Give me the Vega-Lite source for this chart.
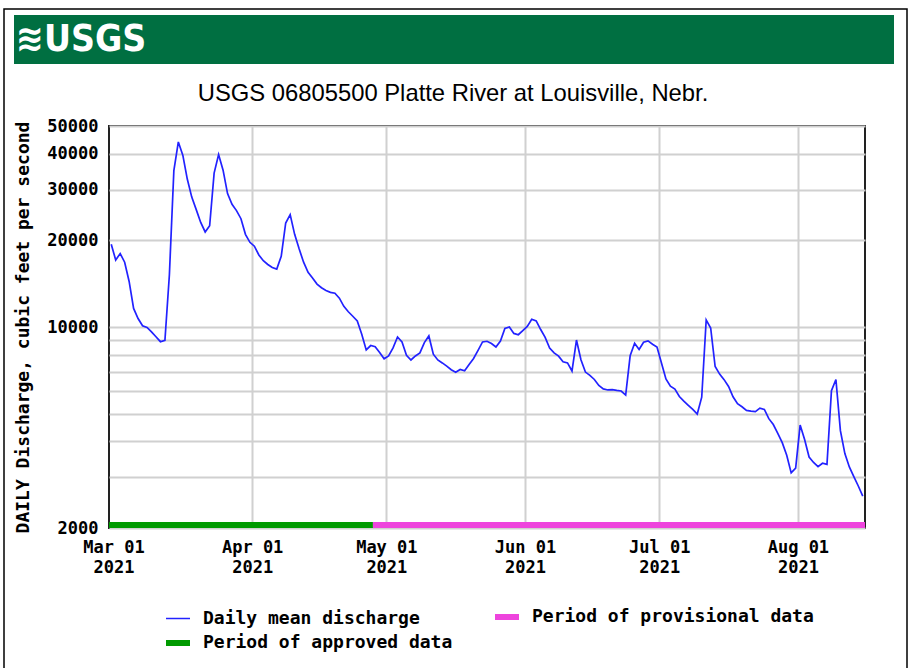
{
  "$schema": "https://vega.github.io/schema/vega-lite/v6.json",
  "background": "white",
  "padding": {"left": 3, "top": 8, "right": 5, "bottom": 0},
  "spacing": 62,
  "bounds": "flush",
  "resolve": {"scale": {"x": "independent", "y": "independent", "color": "independent"}, "legend": {"color": "independent"}},
  "config": {
    "font": "DejaVu Sans Mono",
    "axis": {"labelFont": "DejaVu Sans Mono", "labelFontWeight": "bold", "labelColor": "black", "titleFont": "DejaVu Sans Mono", "titleFontWeight": "bold", "titleColor": "black"}
  },
  "vconcat": [
    {
      "width": 785,
      "height": 49,
      "view": {"stroke": null},
      "data": {"values": [{"logo": "≋USGS"}]},
      "encoding": {
        "x": {"datum": 0, "type": "quantitative", "scale": {"domain": [0, 1]}, "axis": null},
        "y": {"datum": 0.5, "type": "quantitative", "scale": {"domain": [0, 1]}, "axis": null}
      },
      "layer": [
        {
          "mark": {"type": "rect", "color": "#006f41", "xOffset": -95},
          "encoding": {"x": {"datum": 0, "type": "quantitative"}, "x2": {"datum": 1}, "y": {"datum": 0, "type": "quantitative"}, "y2": {"datum": 1}}
        },
        {
          "mark": {"type": "rect", "filled": false, "color": "#000000", "strokeWidth": 1.5, "xOffset": -105, "x2Offset": 13, "yOffset": 640, "y2Offset": -6},
          "encoding": {"x": {"datum": 0, "type": "quantitative"}, "x2": {"datum": 1}, "y": {"datum": 0, "type": "quantitative"}, "y2": {"datum": 1}}
        },
        {
          "mark": {"type": "text", "align": "left", "baseline": "middle", "color": "white", "font": "DejaVu Sans Condensed, Liberation Sans Narrow, Liberation Sans", "fontSize": 37, "fontWeight": "bold", "dx": -93},
          "encoding": {"text": {"field": "logo"}}
        }
      ]
    },
    {
      "width": 756,
      "height": 402,
      "view": {"stroke": "#222222", "strokeWidth": 2},
      "title": {"text": "USGS 06805500 Platte River at Louisville, Nebr.", "font": "Liberation Sans", "fontSize": 23.8, "fontWeight": "normal", "color": "black", "offset": -8, "baseline": "alphabetic", "anchor": "middle", "frame": "bounds", "dx": 12},
      "layer": [
        {
          "data": {"values": [
            {"date":"2021-02-28","q":19400},{"date":"2021-03-01","q":17100},{"date":"2021-03-02","q":18000},{"date":"2021-03-03","q":16800},{"date":"2021-03-04","q":14400},{"date":"2021-03-05","q":11600},{"date":"2021-03-06","q":10700},{"date":"2021-03-07","q":10100},{"date":"2021-03-08","q":9960},{"date":"2021-03-09","q":9620},{"date":"2021-03-10","q":9250},{"date":"2021-03-11","q":8890},{"date":"2021-03-12","q":8980},{"date":"2021-03-13","q":15200},{"date":"2021-03-14","q":35000},{"date":"2021-03-15","q":44000},{"date":"2021-03-16","q":39600},{"date":"2021-03-17","q":32700},{"date":"2021-03-18","q":28300},{"date":"2021-03-19","q":25600},{"date":"2021-03-20","q":23100},{"date":"2021-03-21","q":21400},{"date":"2021-03-22","q":22500},{"date":"2021-03-23","q":34300},{"date":"2021-03-24","q":39800},{"date":"2021-03-25","q":35100},{"date":"2021-03-26","q":29100},{"date":"2021-03-27","q":26700},{"date":"2021-03-28","q":25400},{"date":"2021-03-29","q":23800},{"date":"2021-03-30","q":21000},{"date":"2021-03-31","q":19700},
            {"date":"2021-04-01","q":19100},{"date":"2021-04-02","q":17800},{"date":"2021-04-03","q":17000},{"date":"2021-04-04","q":16500},{"date":"2021-04-05","q":16100},{"date":"2021-04-06","q":15900},{"date":"2021-04-07","q":17600},{"date":"2021-04-08","q":23000},{"date":"2021-04-09","q":24600},{"date":"2021-04-10","q":21000},{"date":"2021-04-11","q":18700},{"date":"2021-04-12","q":16800},{"date":"2021-04-13","q":15500},{"date":"2021-04-14","q":14800},{"date":"2021-04-15","q":14100},{"date":"2021-04-16","q":13700},{"date":"2021-04-17","q":13400},{"date":"2021-04-18","q":13200},{"date":"2021-04-19","q":13100},{"date":"2021-04-20","q":12600},{"date":"2021-04-21","q":11800},{"date":"2021-04-22","q":11300},{"date":"2021-04-23","q":10900},{"date":"2021-04-24","q":10500},{"date":"2021-04-25","q":9430},{"date":"2021-04-26","q":8320},{"date":"2021-04-27","q":8620},{"date":"2021-04-28","q":8540},{"date":"2021-04-29","q":8150},{"date":"2021-04-30","q":7750},
            {"date":"2021-05-01","q":7930},{"date":"2021-05-02","q":8460},{"date":"2021-05-03","q":9230},{"date":"2021-05-04","q":8870},{"date":"2021-05-05","q":7970},{"date":"2021-05-06","q":7680},{"date":"2021-05-07","q":7930},{"date":"2021-05-08","q":8130},{"date":"2021-05-09","q":8830},{"date":"2021-05-10","q":9310},{"date":"2021-05-11","q":8040},{"date":"2021-05-12","q":7680},{"date":"2021-05-13","q":7500},{"date":"2021-05-14","q":7310},{"date":"2021-05-15","q":7100},{"date":"2021-05-16","q":6960},{"date":"2021-05-17","q":7120},{"date":"2021-05-18","q":7040},{"date":"2021-05-19","q":7410},{"date":"2021-05-20","q":7770},{"date":"2021-05-21","q":8290},{"date":"2021-05-22","q":8870},{"date":"2021-05-23","q":8920},{"date":"2021-05-24","q":8760},{"date":"2021-05-25","q":8520},{"date":"2021-05-26","q":8930},{"date":"2021-05-27","q":9880},{"date":"2021-05-28","q":10000},{"date":"2021-05-29","q":9500},{"date":"2021-05-30","q":9400},{"date":"2021-05-31","q":9720},
            {"date":"2021-06-01","q":10040},{"date":"2021-06-02","q":10640},{"date":"2021-06-03","q":10500},{"date":"2021-06-04","q":9800},{"date":"2021-06-05","q":9200},{"date":"2021-06-06","q":8450},{"date":"2021-06-07","q":8130},{"date":"2021-06-08","q":7920},{"date":"2021-06-09","q":7570},{"date":"2021-06-10","q":7500},{"date":"2021-06-11","q":7030},{"date":"2021-06-12","q":9010},{"date":"2021-06-13","q":7690},{"date":"2021-06-14","q":6970},{"date":"2021-06-15","q":6790},{"date":"2021-06-16","q":6570},{"date":"2021-06-17","q":6260},{"date":"2021-06-18","q":6090},{"date":"2021-06-19","q":6040},{"date":"2021-06-20","q":6060},{"date":"2021-06-21","q":6020},{"date":"2021-06-22","q":5990},{"date":"2021-06-23","q":5800},{"date":"2021-06-24","q":7940},{"date":"2021-06-25","q":8780},{"date":"2021-06-26","q":8350},{"date":"2021-06-27","q":8850},{"date":"2021-06-28","q":8950},{"date":"2021-06-29","q":8710},{"date":"2021-06-30","q":8520},
            {"date":"2021-07-01","q":7490},{"date":"2021-07-02","q":6600},{"date":"2021-07-03","q":6230},{"date":"2021-07-04","q":6080},{"date":"2021-07-05","q":5730},{"date":"2021-07-06","q":5520},{"date":"2021-07-07","q":5340},{"date":"2021-07-08","q":5170},{"date":"2021-07-09","q":4980},{"date":"2021-07-10","q":5700},{"date":"2021-07-11","q":10580},{"date":"2021-07-12","q":9920},{"date":"2021-07-13","q":7290},{"date":"2021-07-14","q":6860},{"date":"2021-07-15","q":6560},{"date":"2021-07-16","q":6210},{"date":"2021-07-17","q":5720},{"date":"2021-07-18","q":5410},{"date":"2021-07-19","q":5280},{"date":"2021-07-20","q":5130},{"date":"2021-07-21","q":5100},{"date":"2021-07-22","q":5080},{"date":"2021-07-23","q":5220},{"date":"2021-07-24","q":5170},{"date":"2021-07-25","q":4800},{"date":"2021-07-26","q":4580},{"date":"2021-07-27","q":4270},{"date":"2021-07-28","q":3960},{"date":"2021-07-29","q":3580},{"date":"2021-07-30","q":3110},{"date":"2021-07-31","q":3230},
            {"date":"2021-08-01","q":4560},{"date":"2021-08-02","q":4060},{"date":"2021-08-03","q":3530},{"date":"2021-08-04","q":3380},{"date":"2021-08-05","q":3270},{"date":"2021-08-06","q":3360},{"date":"2021-08-07","q":3330},{"date":"2021-08-08","q":6000},{"date":"2021-08-09","q":6570},{"date":"2021-08-10","q":4360},{"date":"2021-08-11","q":3630},{"date":"2021-08-12","q":3260},{"date":"2021-08-13","q":3020},{"date":"2021-08-14","q":2800},{"date":"2021-08-15","q":2580}
          ]},
          "mark": {"type": "line", "strokeWidth": 1.7, "clip": true},
          "encoding": {
            "x": {
              "field": "date", "type": "temporal", "timeUnit": "utcyearmonthdate", "bandPosition": 0.5, "title": null,
              "scale": {"type": "utc", "domain": [{"year": 2021, "month": "feb", "date": 28, "utc": true}, {"year": 2021, "month": "aug", "date": 16, "utc": true}]},
              "axis": {
                "values": [
                  {"year": 2021, "month": "mar", "date": 1, "utc": true},
                  {"year": 2021, "month": "apr", "date": 1, "utc": true},
                  {"year": 2021, "month": "may", "date": 1, "utc": true},
                  {"year": 2021, "month": "jun", "date": 1, "utc": true},
                  {"year": 2021, "month": "jul", "date": 1, "utc": true},
                  {"year": 2021, "month": "aug", "date": 1, "utc": true}
                ],
                "labelExpr": "[utcFormat(datum.value, '%b %d'), utcFormat(datum.value, '%Y')]",
                "grid": true, "gridColor": "#d0d0d0", "gridWidth": 2,
                "gridOpacity": {"condition": {"test": "utcmonth(datum.value) === 2", "value": 0}, "value": 1},
                "ticks": false, "domain": false, "labelPadding": 11, "labelLineHeight": 20,
                "labelFlush": false, "labelOverlap": false, "labelFontSize": 17
              }
            },
            "y": {
              "field": "q", "type": "quantitative", "title": "DAILY Discharge, cubic feet per second",
              "scale": {"type": "log", "domain": [2000, 50000], "nice": false},
              "axis": {
                "values": [2000, 3000, 4000, 5000, 6000, 7000, 8000, 9000, 10000, 20000, 30000, 40000, 50000],
                "labelExpr": "indexof([2000, 10000, 20000, 30000, 40000, 50000], datum.value) >= 0 ? datum.value + '' : ''",
                "grid": true, "gridColor": "#d0d0d0", "gridWidth": 2,
                "ticks": false, "domain": false, "labelPadding": 11, "minExtent": 70, "maxExtent": 70,
                "titlePadding": 7, "labelFlush": false, "labelOverlap": false, "labelFontSize": 17, "titleFontSize": 18
              }
            },
            "color": {
              "datum": "Daily mean discharge", "type": "nominal", "title": null,
              "scale": {"domain": ["Daily mean discharge", "Period of provisional data", "Period of approved data"], "range": ["#2222ff", "#ee44dd", "#009a00"]},
              "legend": {
                "orient": "none", "legendX": 60, "legendY": 482, "direction": "horizontal", "columns": 2, "columnPadding": 30, "rowPadding": 2,
                "title": null, "symbolType": "stroke", "symbolSize": 576, "symbolStrokeWidth": 6,
                "labelFont": "DejaVu Sans Mono", "labelFontSize": 18, "labelFontWeight": "bold", "labelColor": "black",
                "labelOffset": 16, "labelLimit": 400,
                "encode": {"symbols": {"update": {"strokeWidth": {"signal": "datum.value === 'Daily mean discharge' ? 1.5 : 6"}}}}
              }
            }
          }
        },
        {
          "data": {"values": [
            {"series": "Period of approved data", "start": "2021-02-28", "end": "2021-04-28"},
            {"series": "Period of provisional data", "start": "2021-04-28", "end": "2021-08-16"}
          ]},
          "mark": {"type": "rule", "strokeWidth": 6, "yOffset": -3, "strokeCap": "butt"},
          "encoding": {
            "x": {"field": "start", "type": "temporal", "scale": {"type": "utc"}},
            "x2": {"field": "end"},
            "y": {"datum": 2000},
            "color": {
              "field": "series", "type": "nominal", "title": null,
              "scale": {"domain": ["Daily mean discharge", "Period of provisional data", "Period of approved data"], "range": ["#2222ff", "#ee44dd", "#009a00"]}
            }
          }
        }
      ]
    }
  ]
}
